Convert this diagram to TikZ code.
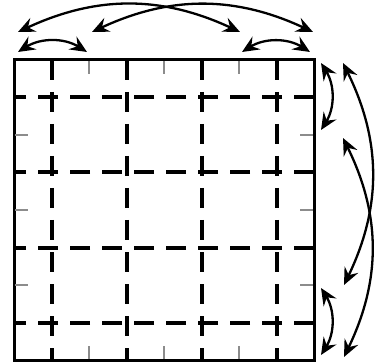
\documentclass[tikz,border=0pt]{standalone}
\usepackage{tikz}
\usetikzlibrary{arrows.meta}

\begin{document}
\begin{tikzpicture}[
  x=1pt, y=-1pt,
  cut/.style={line width=4pt, dash pattern=on 20pt off 12pt},
  tick/.style={line width=2.2pt, black!45},
  arr/.style={{Stealth[length=17pt,width=15pt,inset=6pt]}-{Stealth[length=17pt,width=15pt,inset=6pt]}, line width=2.3pt},
]
\useasboundingbox (0,0) rectangle (377,363);

% DASHED CELL LINES
\draw[cut] (51.5,60) -- (51.5,360);
\draw[cut] (126.5,60) -- (126.5,360);
\draw[cut] (201.5,60) -- (201.5,360);
\draw[cut] (276.5,60) -- (276.5,360);
\draw[cut] (314,97.5) -- (14,97.5);
\draw[cut] (314,172.5) -- (14,172.5);
\draw[cut] (314,247.5) -- (14,247.5);
\draw[cut] (314,322.5) -- (14,322.5);

% BORDER AND TICKS
\draw[line width=3pt] (14,60) rectangle (314,360);
\draw[tick] (89,61.3) -- (89,74);
\draw[tick] (164,61.3) -- (164,74);
\draw[tick] (239,61.3) -- (239,74);
\draw[tick] (89,358.7) -- (89,346);
\draw[tick] (164,358.7) -- (164,346);
\draw[tick] (239,358.7) -- (239,346);
\draw[tick] (15.3,135) -- (28,135);
\draw[tick] (15.3,210) -- (28,210);
\draw[tick] (15.3,285) -- (28,285);
\draw[tick] (312.7,135) -- (300,135);
\draw[tick] (312.7,210) -- (300,210);
\draw[tick] (312.7,285) -- (300,285);

% TOP ARROWS
\coordinate (topA) at (18,52);
\coordinate (topB) at (87,52);
\coordinate (topC) at (242,52);
\coordinate (topD) at (310,52);
\coordinate (farA) at (18,32);
\coordinate (farB) at (240,32);
\coordinate (farC) at (92,32);
\coordinate (farD) at (313,32);
\draw[arr] (topA) to[bend left=32] (topB);
\draw[arr] (topC) to[bend left=32] (topD);
\draw[arr] (farA) to[bend left=25] (farB);
\draw[arr] (farC) to[bend left=25] (farD);

% RIGHT ARROWS
\coordinate (sideA) at (321,63);
\coordinate (sideB) at (321,130);
\coordinate (sideC) at (321,288);
\coordinate (sideD) at (321,355);
\coordinate (outA) at (343,63);
\coordinate (outB) at (344,285);
\coordinate (outC) at (343,138);
\coordinate (outD) at (344,357);
\draw[arr] (sideA) to[bend left=32] (sideB);
\draw[arr] (sideC) to[bend left=32] (sideD);
\draw[arr] (outA) to[bend left=26] (outB);
\draw[arr] (outC) to[bend left=26] (outD);
\end{tikzpicture}
\end{document}
